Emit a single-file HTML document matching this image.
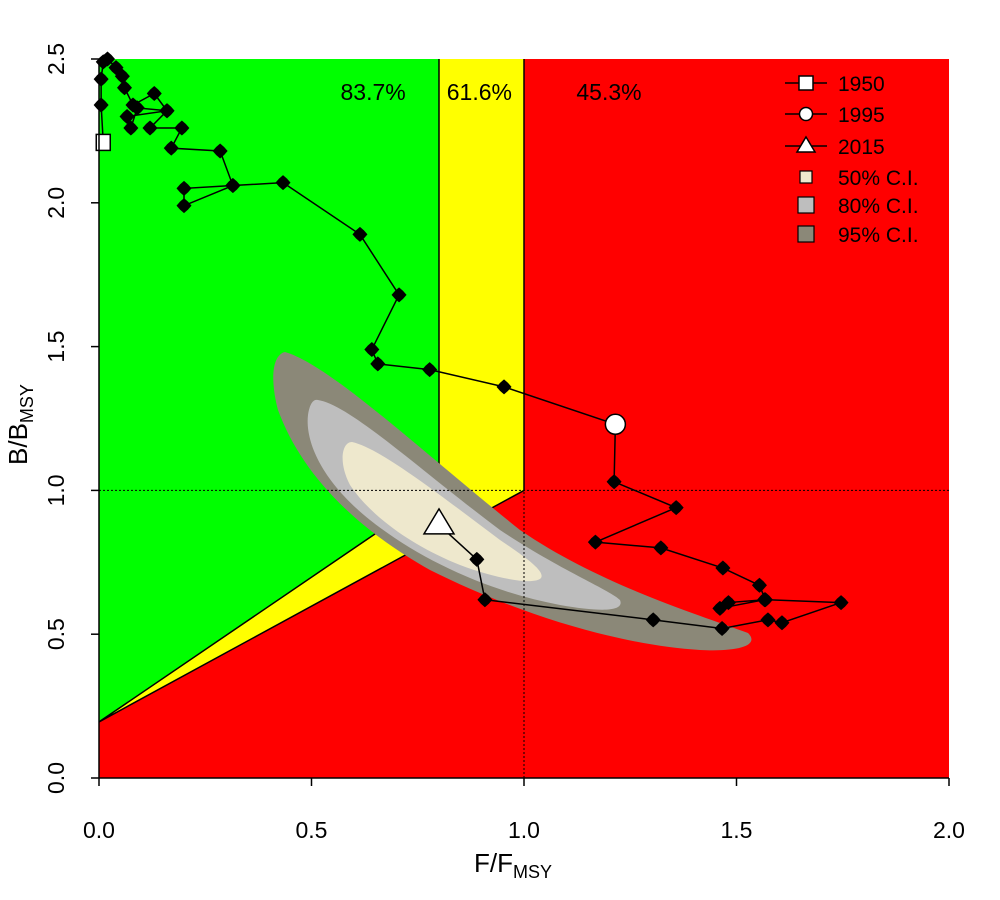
<!DOCTYPE html>
<html><head><meta charset="utf-8"><style>
body{margin:0;background:#fff;font-family:"Liberation Sans",Arial,sans-serif}
svg{display:block}
</style></head><body>
<svg id="chart" width="1000" height="900" viewBox="0 0 1000 900">
<g id="plot"></g>
</svg>
<script>
const fVals=[0.01,0.005,0.005,0.01,0.02,0.04,0.055,0.06,0.08,0.13,0.16,0.09,0.075,0.066,0.16,0.12,0.195,0.17,0.285,0.315,0.2,0.2,0.315,0.433,0.614,0.706,0.642,0.656,0.778,0.953,1.215,1.212,1.358,1.168,1.322,1.468,1.554,1.568,1.481,1.461,1.566,1.746,1.607,1.574,1.466,1.304,0.908,0.889,0.8];
const bVals=[2.21,2.34,2.43,2.49,2.5,2.47,2.44,2.4,2.34,2.38,2.32,2.33,2.26,2.3,2.32,2.26,2.26,2.19,2.18,2.06,1.99,2.05,2.06,2.07,1.89,1.68,1.49,1.44,1.42,1.36,1.23,1.03,0.94,0.82,0.8,0.73,0.67,0.62,0.61,0.59,0.62,0.61,0.54,0.55,0.52,0.55,0.62,0.76,0.88];
const xTicks=[0,0.5,1,1.5,2];
const yTicks=[0,0.5,1,1.5,2,2.5];
const xTickLabels=["0.0","0.5","1.0","1.5","2.0"];
const yTickLabels=["0.0","0.5","1.0","1.5","2.0","2.5"];
const pctLabels=["83.7%","61.6%","45.3%"];
const pctF=[0.645,0.895,1.2];
const legendLabels=["1950","1995","2015","50% C.I.","80% C.I.","95% C.I."];
const idx1995=30;

const X=f=>99+f*425, Y=b=>778-b*287.6;
const NS="http://www.w3.org/2000/svg";
const g=document.getElementById('plot');
function mk(t,a,p){const e=document.createElementNS(NS,t);for(const k in a)e.setAttribute(k,a[k]);(p||g).appendChild(e);return e;}

let e;
e=mk('rect',{x:X(0),y:Y(2.5),width:X(2)-X(0),height:Y(0)-Y(2.5),fill:'#ff0000'});

e=mk('polygon',{points:`${X(0.8)},${Y(2.5)} ${X(1)},${Y(2.5)} ${X(1)},${Y(1)} ${X(0)},${Y(0.195)} ${X(0.8)},${Y(1)}`,fill:'#ffff00'});

e=mk('polygon',{points:`${X(0)},${Y(2.5)} ${X(0.8)},${Y(2.5)} ${X(0.8)},${Y(1)} ${X(0)},${Y(0.195)}`,fill:'#00ff00'});

e=mk('polyline',{points:`${X(0.8)},${Y(2.5)} ${X(0.8)},${Y(1)} ${X(0)},${Y(0.195)} ${X(1)},${Y(1)} ${X(1)},${Y(2.5)}`,fill:'none',stroke:'#000','stroke-width':1.5});


e=mk('path',{d:'M285,352 C330,365 420,450 520,530 C600,585 700,615 748,633 C760,645 740,652 700,650 C620,645 520,615 430,570 C350,525 300,470 278,410 C270,380 272,355 285,352 Z',fill:'#8b8878'});

e=mk('path',{d:'M318,400 C350,405 420,470 500,530 C560,570 610,590 620,600 C625,612 600,612 560,605 C490,592 420,560 370,520 C320,480 305,440 308,415 C310,402 314,399 318,400 Z',fill:'#bebebe'});

e=mk('path',{d:'M352,442 C380,448 440,495 500,540 C530,560 545,572 541,578 C535,585 500,580 460,565 C410,545 370,515 350,485 C338,462 342,442 352,442 Z',fill:'#eee8cd'});


e=mk('line',{x1:X(0),x2:X(2),y1:Y(1),y2:Y(1),stroke:'#000','stroke-dasharray':'2,2','stroke-width':1});

e=mk('line',{x1:X(1),x2:X(1),y1:Y(0),y2:Y(2.5),stroke:'#000','stroke-dasharray':'2,2','stroke-width':1});


e=mk('polyline',{points:fVals.map((f,i)=>X(f)+','+Y(bVals[i])).join(' '),fill:'none',stroke:'#000','stroke-width':1.5});

fVals.forEach((f,i)=>{
  if(i===0||i===idx1995||i===fVals.length-1)return;
  const x=X(f),y=Y(bVals[i]);
  const p=mk('polygon',{points:`${x},${y-7.5} ${x+4},${y-4} ${x+7.5},${y} ${x+4},${y+4} ${x},${y+7.5} ${x-4},${y+4} ${x-7.5},${y} ${x-4},${y-4}`,fill:'#000'});
  
  
});
e=mk('rect',{x:X(fVals[0])-7,y:Y(bVals[0])-8,width:14,height:16,fill:'#fff',stroke:'#000','stroke-width':1.5});

e=mk('circle',{cx:X(fVals[idx1995]),cy:Y(bVals[idx1995]),r:10,fill:'#fff',stroke:'#000','stroke-width':1.5});

{const n=fVals.length-1,x=X(fVals[n]),y=Y(bVals[n]);
e=mk('polygon',{points:`${x},${y-16} ${x+15},${y+9} ${x-15},${y+9}`,fill:'#fff',stroke:'#000','stroke-width':1.5});
}

pctLabels.forEach((t,i)=>{
  const tx=mk('text',{x:X(pctF[i]),y:100,'font-size':23,'text-anchor':'middle',fill:'#000'});tx.textContent=t;
  
  
});

e=mk('line',{x1:99,x2:99,y1:Y(0),y2:Y(2.5),stroke:'#000','stroke-width':1.5});

e=mk('line',{x1:X(0),x2:X(2),y1:778,y2:778,stroke:'#000','stroke-width':1.5});

xTicks.forEach((v,i)=>{
  const l=mk('line',{x1:X(v),x2:X(v),y1:778,y2:786,stroke:'#000','stroke-width':1.5});
  
  
  const t=mk('text',{x:X(v),y:838,'font-size':23,'text-anchor':'middle'});t.textContent=xTickLabels[i];
  
  
});
yTicks.forEach((v,i)=>{
  const l=mk('line',{x1:91,x2:99,y1:Y(v),y2:Y(v),stroke:'#000','stroke-width':1.5});
  
  
  const t=mk('text',{x:0,y:0,'font-size':23,'text-anchor':'middle',transform:`translate(64,${Y(v)}) rotate(-90)`});t.textContent=yTickLabels[i];
  
  
});
e=mk('text',{x:474,y:872,'font-size':26,'text-anchor':'start'});
e.innerHTML='F/F<tspan font-size="18" dy="6">MSY</tspan>';

e=mk('text',{x:0,y:0,'font-size':26,transform:'translate(27,465) rotate(-90)'});
e.innerHTML='B/B<tspan font-size="18" dy="6">MSY</tspan>';


const lg=mk('g',{});

const ly=[83,114,146,177,205,234];
legendLabels.forEach((t,i)=>{
  const y=ly[i],x=806;
  const eg=mk('g',{},lg);
  
  
  if(i<3)mk('line',{x1:785,x2:827,y1:y,y2:y,stroke:'#000','stroke-width':1.5},eg);
  if(i===0)mk('rect',{x:x-7,y:y-7,width:14,height:14,fill:'#fff',stroke:'#000','stroke-width':1.5},eg);
  if(i===1)mk('circle',{cx:x,cy:y,r:6.5,fill:'#fff',stroke:'#000','stroke-width':1.5},eg);
  if(i===2)mk('polygon',{points:`${x},${y-9} ${x+9},${y+6} ${x-9},${y+6}`,fill:'#fff',stroke:'#000','stroke-width':1.5},eg);
  if(i>=3){const c=['#eee8cd','#bebebe','#8b8878'][i-3];const s=[12,16,16][i-3];
    mk('rect',{x:x-s/2,y:y-s/2,width:s,height:s,fill:c,stroke:'#000','stroke-width':1.2},eg);}
  const tx=mk('text',{x:838,y:y+8,'font-size':21},eg);tx.textContent=t;
});
</script>
</body></html>
